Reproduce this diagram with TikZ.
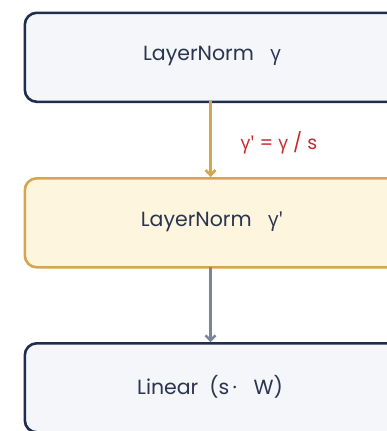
\documentclass[tikz,border=0pt]{standalone}
\usepackage{fontspec}
\setmainfont{Poppins}
\newfontfamily\gfont[Ligatures=TeXOff]{Open Sans}
\usetikzlibrary{arrows.meta}
\definecolor{navy}{HTML}{1F2D4F}
\definecolor{boxgrey}{HTML}{F4F6F9}
\definecolor{gold}{HTML}{D6A64F}
\definecolor{cream}{HTML}{FDF5DE}
\definecolor{arrowgrey}{HTML}{7B8599}
\definecolor{txt}{HTML}{2A3550}
\definecolor{redlab}{HTML}{C42A2E}
\newcommand{\gam}{{\gfont γ}}
\newcommand{\gamp}{{\gfont γ'}}
\tikzset{
  x=1pt,y=1pt,
  blockbox/.style={rounded corners=12pt, line width=2.6pt, minimum width=400pt, minimum height=89pt, anchor=north west, inner sep=0pt},
  bluebox/.style={blockbox, draw=navy, fill=boxgrey},
  yellowbox/.style={blockbox, draw=gold, fill=cream},
  lbl/.style={font=\fontsize{20.5}{22}\selectfont, text=txt},
  conn/.style={-{Straight Barb[length=5pt,width=10pt]}, line width=2.8pt}
}
\begin{document}
\begin{tikzpicture}
\useasboundingbox (0,0) rectangle (386,-431);
\fill[white] (0,0) rectangle (386,-431);
\node[bluebox] (b1) at (23.5,-11.5) {};
\node[yellowbox] (b2) at (23.5,-177) {};
\node[bluebox] (b3) at (23.5,-342) {};
\node[lbl] (t1) at (212,-56) {LayerNorm\ \ \ \gam};
\node[lbl] (t2) at (212,-221.5) {LayerNorm\ \ \ \gamp};
\node[lbl] (t3) at (210,-386.5) {Linear\ \ (s\,·\ \ \ W)};
\coordinate (a1s) at (210.5,-101);
\coordinate (a1e) at (210.5,-177);
\coordinate (a2s) at (210.5,-267);
\coordinate (a2e) at (210.5,-342);
\draw[conn, draw=gold] (a1s) -- (a1e);
\draw[conn, draw=arrowgrey, line width=2.4pt] (a2s) -- (a2e);
\node[font=\fontsize{19}{21}\selectfont, text=redlab, anchor=west] (lab) at (237,-143) {\gamp\ = \gam\ / s};
\end{tikzpicture}
\end{document}
